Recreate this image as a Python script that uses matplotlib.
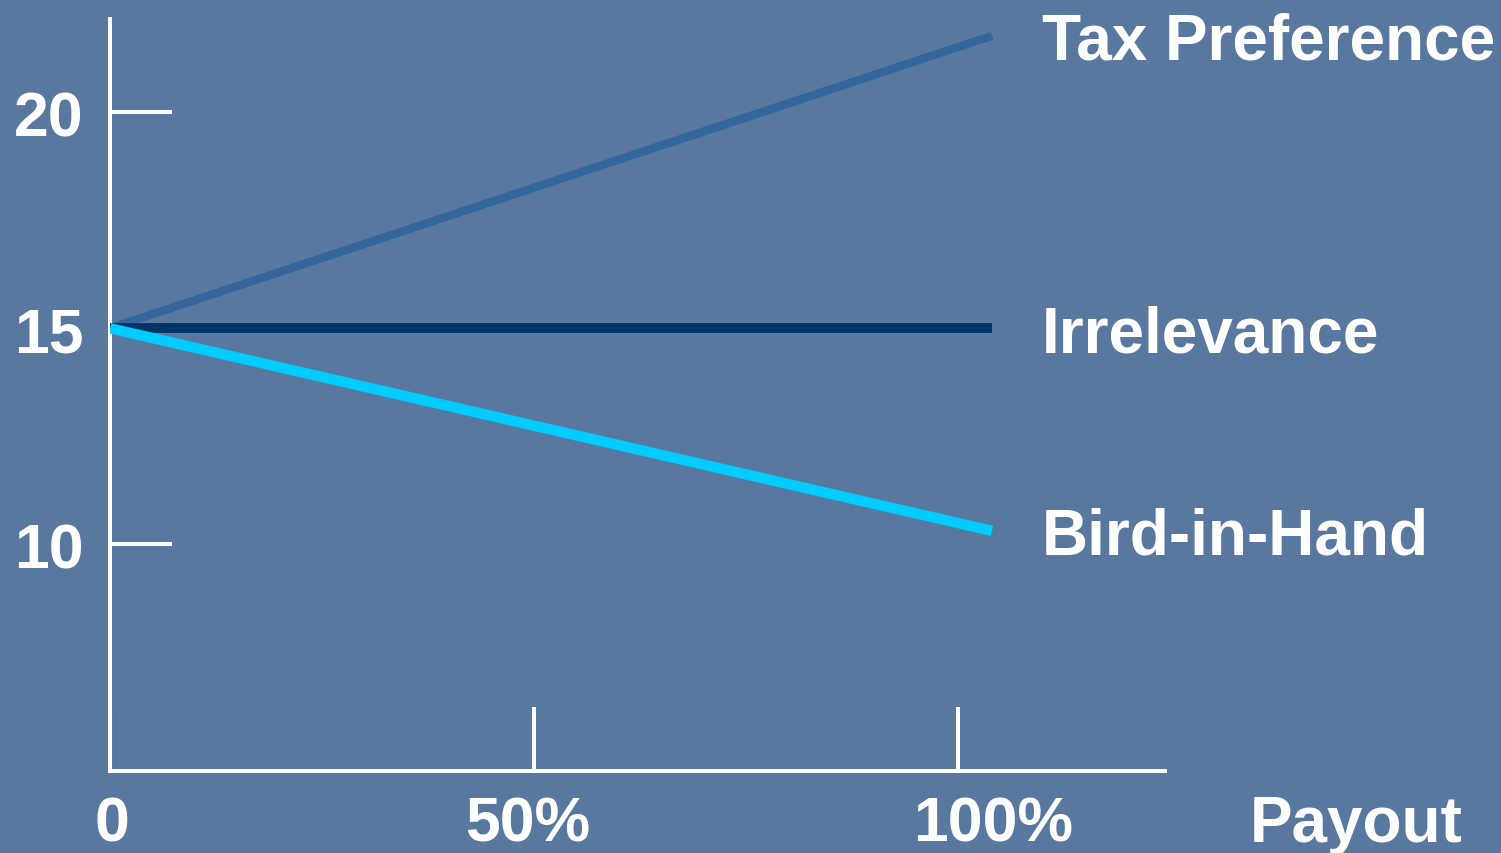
import matplotlib
matplotlib.use("Agg")
import matplotlib.pyplot as plt

# payout (%) at the start and end of each line
payout = [0, 104]
tax_pref = [15, 21.77]
irrelevance = [15, 15]
bird_in_hand = [15, 10.31]

series_names = ["Tax Preference", "Irrelevance", "Bird-in-Hand"]
series_vals = [tax_pref, irrelevance, bird_in_hand]
series_colors = ["#33669c", "#003366", "#00ccff"]
series_widths = [6.0, 7.0, 7.5]

y_ticks = [10, 15, 20]
x_ticks = [0, 50, 100]
x_labels = ["0", "50%", "100%"]
x_label_pos = [0.2, 49.2, 104.1]

plt.rcParams["font.family"] = ["Liberation Sans", "DejaVu Sans"]
plt.rcParams["font.weight"] = "bold"

fig = plt.figure(figsize=(15.01, 8.54), dpi=100, facecolor="#5878a0")
ax = fig.add_axes([110 / 1501, 82 / 854, 1055 / 1501, 752 / 854])
ax.set_facecolor("none")

for name, vals, c, lw in zip(series_names, series_vals, series_colors, series_widths):
    ax.plot(payout, vals, color=c, lw=lw, solid_capstyle="butt", zorder=3)
    ax.annotate(name, xy=(payout[-1], vals[-1]), xytext=(50, -23),
                textcoords="offset pixels", ha="left", va="baseline",
                color="white", fontsize=46, fontweight="bold")

ax.set_xlim(0, 124.4)
ax.set_ylim(4.75, 22.16)

for s in ["top", "right"]:
    ax.spines[s].set_visible(False)
for s in ["left", "bottom"]:
    ax.spines[s].set_color("white")
    ax.spines[s].set_linewidth(2.9)

ax.set_yticks(y_ticks)
ax.set_yticklabels([str(v) for v in y_ticks])
ax.tick_params(axis="y", direction="in", length=44.6, width=2.9, color="white",
               labelcolor="white", labelsize=45, pad=19)
for lab in ax.get_yticklabels():
    lab.set_fontweight("bold")

ax.set_xticks(x_ticks)
ax.set_xticklabels([])
ax.tick_params(axis="x", direction="in", length=46, width=2.9, color="white")

for lab, xp in zip(x_labels, x_label_pos):
    ax.text(xp, 3.13, lab, ha="center", va="baseline", color="white",
            fontsize=45, fontweight="bold")
ax.text(134.4, 3.13, "Payout", ha="left", va="baseline", color="white",
        fontsize=46, fontweight="bold", clip_on=False)

fig.savefig("out.png", dpi=100, facecolor=fig.get_facecolor())
